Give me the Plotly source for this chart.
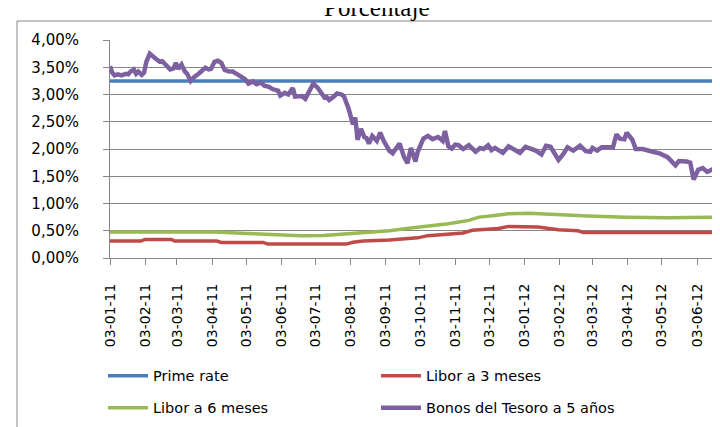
import plotly.graph_objects as go

# ---------------- data ----------------
prime_dates = ["2011-01-03", "2012-06-19"]
prime_values = [3.25, 3.25]

libor3_dates = ["2011-01-03", "2011-01-30", "2011-02-03", "2011-02-26", "2011-03-01", "2011-04-07",
                "2011-04-11", "2011-05-18", "2011-05-22", "2011-07-30", "2011-08-05", "2011-08-14",
                "2011-09-06", "2011-09-19", "2011-10-01", "2011-10-10", "2011-10-25", "2011-11-10",
                "2011-11-18", "2011-11-28", "2011-12-11", "2011-12-20", "2012-01-07", "2012-01-15",
                "2012-02-02", "2012-02-19", "2012-02-24", "2012-04-02", "2012-04-09", "2012-04-16",
                "2012-06-19"]
libor3_values = [0.31, 0.31, 0.34, 0.34, 0.31, 0.31,
                 0.285, 0.285, 0.255, 0.255, 0.29, 0.31,
                 0.33, 0.355, 0.37, 0.41, 0.43, 0.46,
                 0.51, 0.53, 0.54, 0.58, 0.58, 0.57,
                 0.52, 0.50, 0.47, 0.47, 0.46, 0.47,
                 0.47]

libor6_dates = ["2011-01-03", "2011-04-05", "2011-05-04", "2011-06-02", "2011-06-20", "2011-07-10",
                "2011-07-29", "2011-08-14", "2011-09-06", "2011-09-25", "2011-10-10", "2011-10-28",
                "2011-11-15", "2011-11-24", "2011-12-08", "2011-12-20", "2012-01-07", "2012-01-25",
                "2012-02-10", "2012-02-28", "2012-04-02", "2012-05-08", "2012-06-19"]
libor6_values = [0.475, 0.475, 0.45, 0.42, 0.41, 0.415,
                 0.44, 0.47, 0.50, 0.55, 0.58, 0.63,
                 0.69, 0.75, 0.78, 0.81, 0.82, 0.80,
                 0.78, 0.77, 0.75, 0.74, 0.75]

bonos_dates = ["2011-01-03", "2011-01-05", "2011-01-07", "2011-01-10", "2011-01-13", "2011-01-17",
               "2011-01-19", "2011-01-21", "2011-01-24", "2011-01-26", "2011-01-28", "2011-01-31",
               "2011-02-02", "2011-02-04", "2011-02-07", "2011-02-09", "2011-02-11", "2011-02-14",
               "2011-02-16", "2011-02-18", "2011-02-22", "2011-02-25", "2011-02-28", "2011-03-02",
               "2011-03-04", "2011-03-07", "2011-03-10", "2011-03-12", "2011-03-15", "2011-03-18",
               "2011-03-22", "2011-03-25", "2011-03-28", "2011-03-31", "2011-04-02", "2011-04-05",
               "2011-04-08", "2011-04-11", "2011-04-14", "2011-04-18", "2011-04-21", "2011-04-26",
               "2011-04-29", "2011-05-02", "2011-05-05", "2011-05-09", "2011-05-12", "2011-05-16",
               "2011-05-19", "2011-05-23", "2011-05-26", "2011-05-31", "2011-06-02", "2011-06-06",
               "2011-06-09", "2011-06-13", "2011-06-15", "2011-06-17", "2011-06-21", "2011-06-24",
               "2011-06-28", "2011-07-01", "2011-07-05", "2011-07-08", "2011-07-11", "2011-07-13",
               "2011-07-15", "2011-07-19", "2011-07-22", "2011-07-26", "2011-07-28", "2011-08-01",
               "2011-08-03", "2011-08-05", "2011-08-07", "2011-08-09", "2011-08-11", "2011-08-12",
               "2011-08-15", "2011-08-17", "2011-08-19", "2011-08-22", "2011-08-26", "2011-08-29",
               "2011-09-01", "2011-09-06", "2011-09-09", "2011-09-15", "2011-09-19", "2011-09-22",
               "2011-09-25", "2011-09-29", "2011-10-01", "2011-10-06", "2011-10-10", "2011-10-14",
               "2011-10-19", "2011-10-23", "2011-10-25", "2011-10-28", "2011-10-31", "2011-11-03",
               "2011-11-06", "2011-11-10", "2011-11-15", "2011-11-18", "2011-11-21", "2011-11-25",
               "2011-11-28", "2011-12-02", "2011-12-05", "2011-12-08", "2011-12-12", "2011-12-15",
               "2011-12-20", "2011-12-24", "2011-12-30", "2012-01-04", "2012-01-09", "2012-01-13",
               "2012-01-18", "2012-01-22", "2012-01-26", "2012-01-30", "2012-02-02", "2012-02-06",
               "2012-02-10", "2012-02-15", "2012-02-21", "2012-02-26", "2012-03-01", "2012-03-03",
               "2012-03-07", "2012-03-11", "2012-03-16", "2012-03-21", "2012-03-24", "2012-03-27",
               "2012-03-31", "2012-04-02", "2012-04-07", "2012-04-10", "2012-04-16", "2012-04-20",
               "2012-04-25", "2012-05-01", "2012-05-08", "2012-05-15", "2012-05-18", "2012-05-25",
               "2012-05-28", "2012-05-31", "2012-06-04", "2012-06-08", "2012-06-12", "2012-06-16",
               "2012-06-19"]
bonos_values = [3.52, 3.40, 3.35, 3.37, 3.35, 3.38,
                3.37, 3.42, 3.46, 3.38, 3.42, 3.36,
                3.40, 3.60, 3.75, 3.70, 3.68, 3.63,
                3.60, 3.61, 3.52, 3.46, 3.48, 3.58,
                3.47, 3.55, 3.42, 3.38, 3.25, 3.32,
                3.38, 3.45, 3.49, 3.46, 3.47, 3.60,
                3.62, 3.58, 3.45, 3.42, 3.42, 3.36,
                3.32, 3.28, 3.20, 3.24, 3.19, 3.22,
                3.16, 3.14, 3.10, 3.07, 2.98, 3.03,
                3.00, 3.12, 2.96, 2.97, 2.97, 2.92,
                3.08, 3.20, 3.12, 3.02, 2.94, 2.95,
                2.90, 2.96, 3.02, 3.00, 2.97, 2.75,
                2.60, 2.45, 2.58, 2.17, 2.30, 2.37,
                2.22, 2.20, 2.10, 2.24, 2.15, 2.30,
                2.15, 1.97, 1.92, 2.10, 1.85, 1.74,
                2.02, 1.77, 1.95, 2.19, 2.24, 2.18,
                2.22, 2.15, 2.33, 2.05, 2.01, 2.08,
                2.07, 2.00, 2.07, 2.02, 1.95, 2.02,
                2.00, 2.07, 1.98, 2.02, 1.97, 1.93,
                2.05, 2.00, 1.93, 2.04, 2.00, 1.97,
                1.90, 2.06, 2.04, 1.90, 1.80, 1.90,
                2.03, 1.97, 2.06, 1.96, 1.95, 2.02,
                1.97, 2.03, 2.03, 2.03, 2.27, 2.19,
                2.18, 2.30, 2.17, 2.00, 2.00, 1.97,
                1.95, 1.92, 1.85, 1.70, 1.78, 1.77,
                1.75, 1.44, 1.62, 1.65, 1.58, 1.62,
                1.65]

x_tick_dates = ["2011-01-03", "2011-02-03", "2011-03-03", "2011-04-03", "2011-05-03", "2011-06-03",
                "2011-07-03", "2011-08-03", "2011-09-03", "2011-10-03", "2011-11-03", "2011-12-03",
                "2012-01-03", "2012-02-03", "2012-03-03", "2012-04-03", "2012-05-03", "2012-06-03"]
x_tick_labels = ["03-01-11", "03-02-11", "03-03-11", "03-04-11", "03-05-11", "03-06-11",
                 "03-07-11", "03-08-11", "03-09-11", "03-10-11", "03-11-11", "03-12-11",
                 "03-01-12", "03-02-12", "03-03-12", "03-04-12", "03-05-12", "03-06-12"]
y_tick_values = [0, 0.5, 1.0, 1.5, 2.0, 2.5, 3.0, 3.5, 4.0]
y_tick_labels = ["0,00%", "0,50%", "1,00%", "1,50%", "2,00%", "2,50%", "3,00%", "3,50%", "4,00%"]

# ---------------- figure ----------------
W, H = 720, 427
ML, MR, MT, MB = 102, 11, 32, 171
PW = W - ML - MR
PH = H - MT - MB


def px_x(p):
    return (p - ML) / PW


def px_y(p):
    return (H - MB - p) / PH


FONT = "DejaVu Sans"
GRID = "#868686"

fig = go.Figure()
fig.add_trace(go.Scatter(x=prime_dates, y=prime_values, mode="lines", name="Prime rate",
                         line=dict(color="#4A7EBB", width=3.5), legend="legend"))
fig.add_trace(go.Scatter(x=libor3_dates, y=libor3_values, mode="lines", name="Libor a 3 meses",
                         line=dict(color="#BE4B48", width=3.5), legend="legend"))
fig.add_trace(go.Scatter(x=libor6_dates, y=libor6_values, mode="lines", name="Libor a 6 meses",
                         line=dict(color="#98B954", width=3.5), legend="legend2"))
fig.add_trace(go.Scatter(x=bonos_dates, y=bonos_values, mode="lines", name="Bonos del Tesoro a 5 años",
                         line=dict(color="#7D60A0", width=4.5), legend="legend2"))

legend_common = dict(orientation="h", xanchor="left", yanchor="middle",
                     entrywidth=218, entrywidthmode="pixels",
                     font=dict(family=FONT, size=14.5, color="#000000"),
                     bgcolor="rgba(0,0,0,0)", itemwidth=40, traceorder="normal")

fig.update_layout(
    width=W, height=H,
    margin=dict(l=ML, r=MR, t=MT, b=MB, pad=0),
    paper_bgcolor="white", plot_bgcolor="white",
    showlegend=True,
    legend=dict(x=px_x(95), y=px_y(377), **legend_common),
    legend2=dict(x=px_x(95), y=px_y(410), **legend_common),
    xaxis=dict(type="date", range=["2011-01-03", "2012-06-20 14:00"],
               tickvals=x_tick_dates, ticktext=x_tick_labels, tickangle=-90,
               ticks="outside", ticklen=6, tickcolor=GRID, showline=True, linecolor=GRID,
               linewidth=1, showgrid=False, zeroline=False,
               tickfont=dict(family=FONT, size=14, color="#000000"), ticklabelstandoff=13),
    yaxis=dict(range=[0, 4], tickvals=y_tick_values, ticktext=y_tick_labels,
               ticks="outside", ticklen=6, tickcolor=GRID, showline=True, linecolor=GRID,
               linewidth=1, showgrid=True, gridcolor=GRID, gridwidth=1, zeroline=False,
               tickfont=dict(family=FONT, size=15, color="#000000"), ticklabelstandoff=21),
    annotations=[dict(text="Porcentaje", xref="paper", yref="paper", x=px_x(369), y=px_y(-1.5),
                      xanchor="center", yanchor="middle", showarrow=False,
                      font=dict(family="Liberation Serif", size=25, color="#000000"))],
    shapes=[dict(type="rect", xref="paper", yref="paper", x0=px_x(9), x1=px_x(740),
                 y0=px_y(445), y1=px_y(12.5), line=dict(color=GRID, width=1),
                 fillcolor="rgba(0,0,0,0)", layer="below")],
)

fig.write_html("out.html")
